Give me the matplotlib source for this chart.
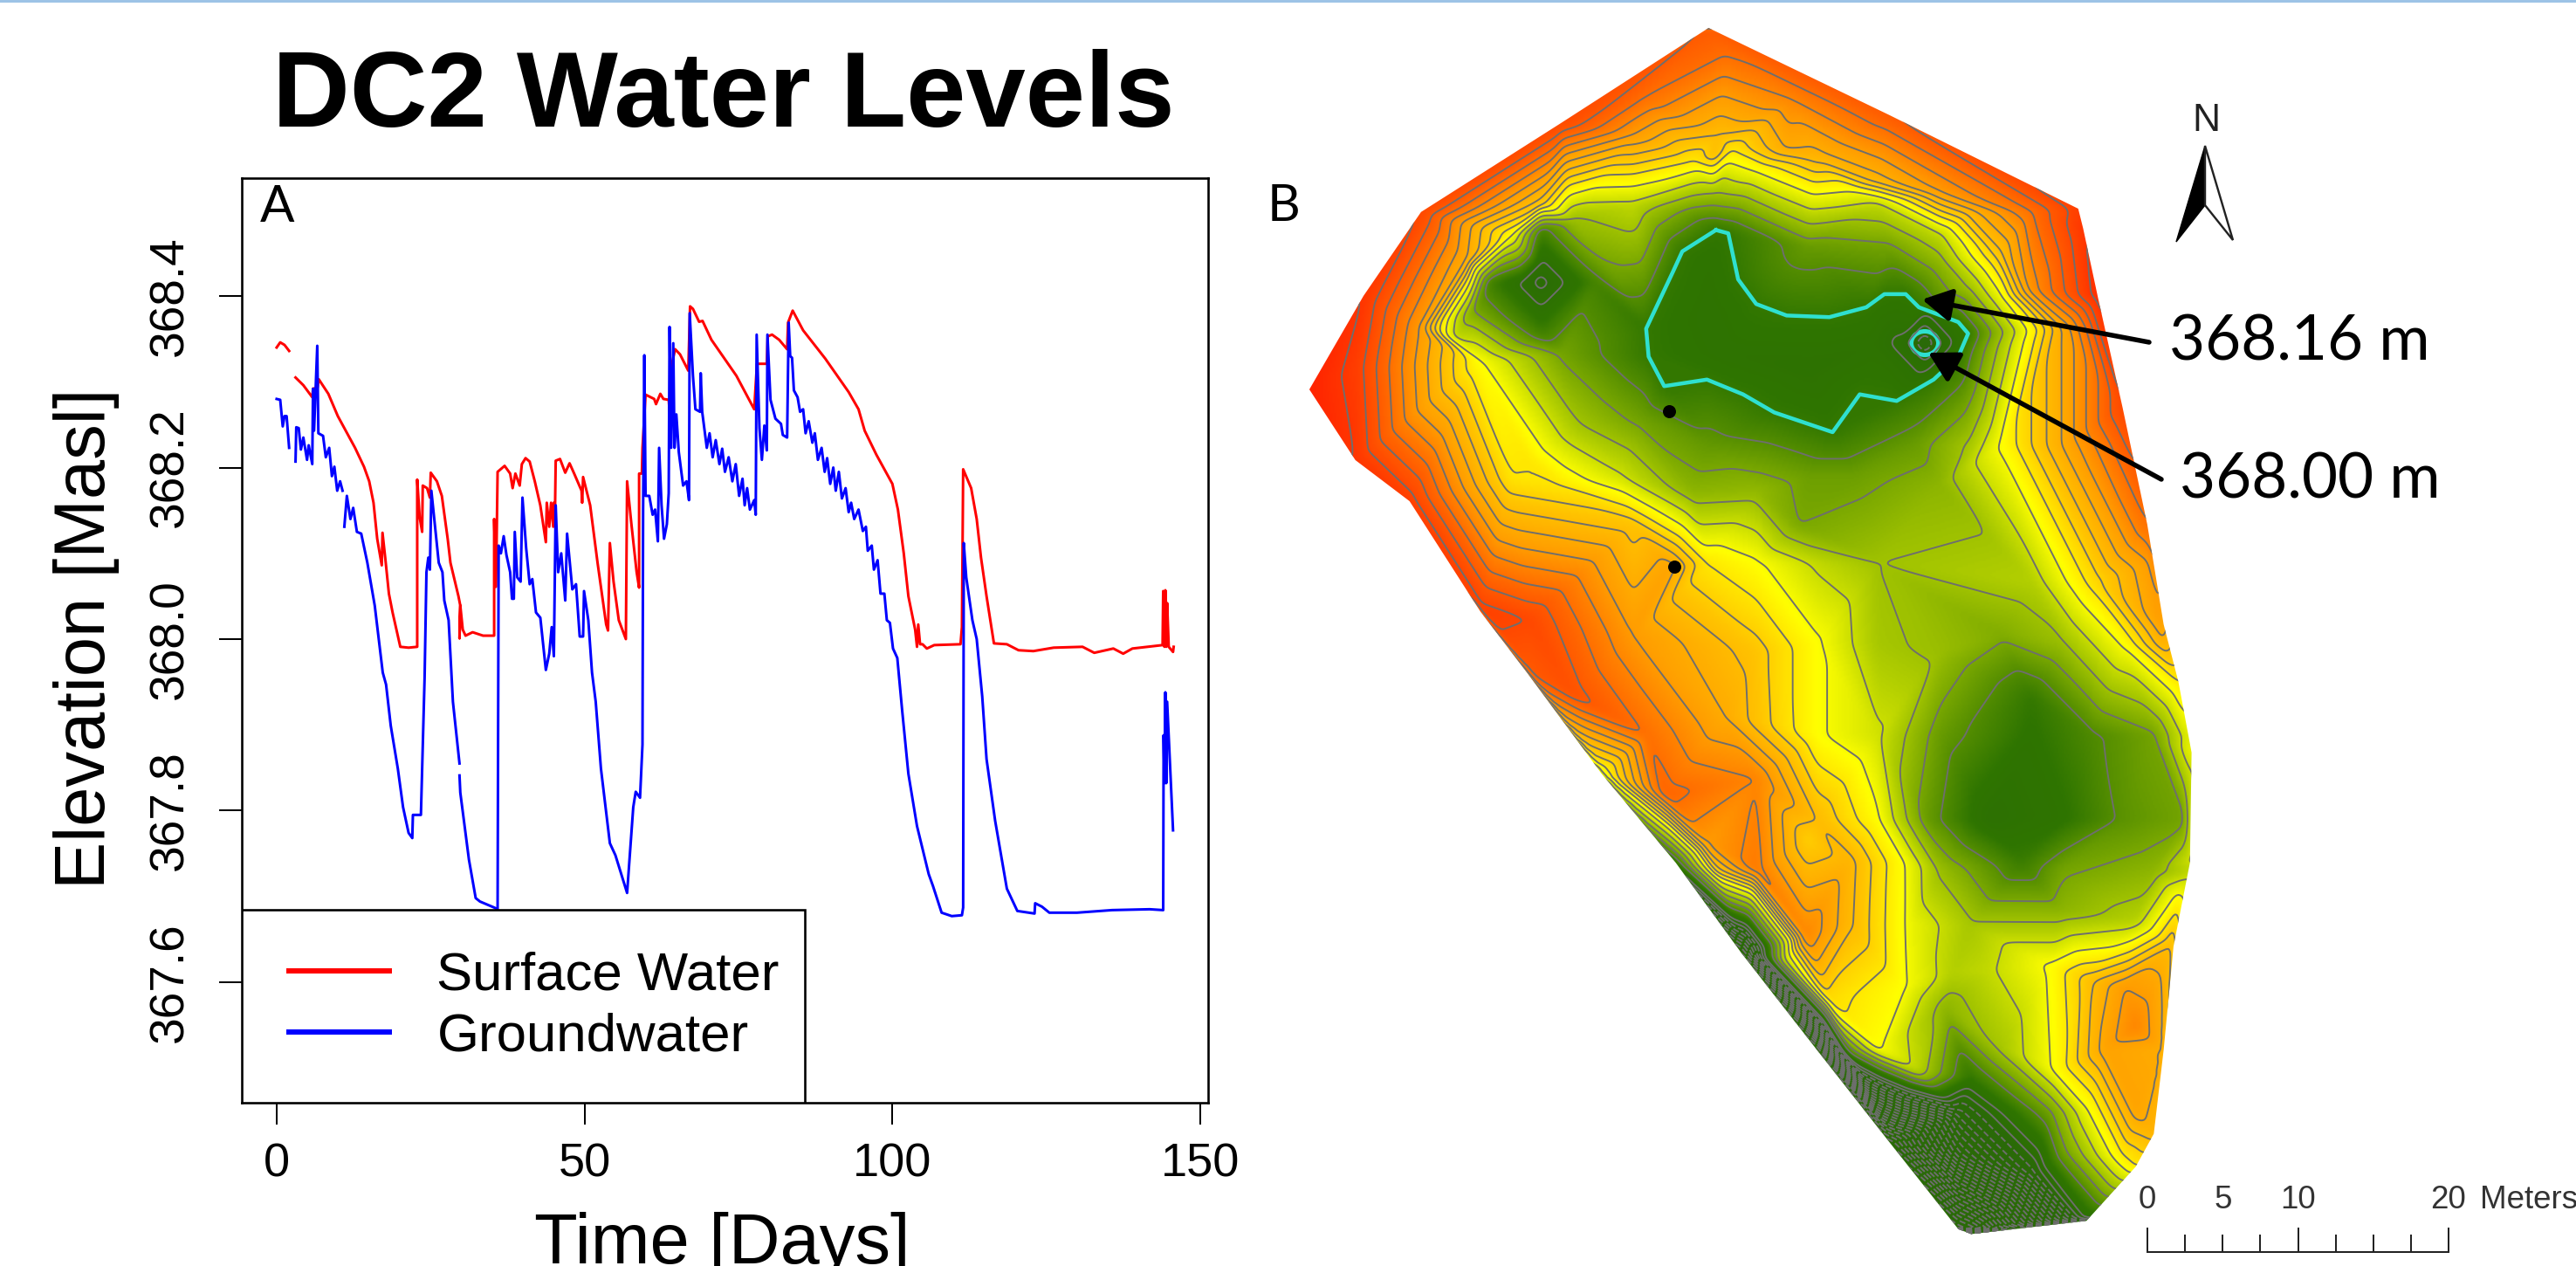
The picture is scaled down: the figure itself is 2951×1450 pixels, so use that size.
import numpy as np
import matplotlib
matplotlib.use("Agg")
import matplotlib.pyplot as plt
import matplotlib.tri as mtri
from matplotlib.colors import LinearSegmentedColormap, Normalize
from matplotlib.patches import Polygon, Rectangle, Ellipse

# ---------- Panel A data (days, metres above sea level) ----------
sw_days_1 = [-0.04, 0.54, 1.24, 1.99]
sw_level_1 = [368.340, 368.346, 368.343, 368.336]
sw_days_2 = [3.03, 4.3, 5.75, 5.87, 6.6, 6.8, 8.36, 9.9, 12.7, 14.15, 15.0, 15.7, 16.3, 17.04, 17.16, 17.6, 18.2, 18.8,
             20.05, 21.4, 22.8, 22.8, 23.2, 23.6, 23.7, 24.4, 24.86, 25.0, 26.0, 26.8, 27.75, 28.2, 29.5, 29.8, 29.67,
             29.8, 30.2, 30.65, 31.8, 33.5, 35.3, 35.3, 35.6, 35.86, 37.0, 37.9, 38.3, 38.75, 39.45, 39.8, 40.4, 41.07,
             41.9, 42.8, 43.7, 43.85, 44.25, 44.55, 44.9, 45.0, 45.2, 45.3, 46.0, 46.85, 47.55, 48.3, 49.5, 49.6, 49.75,
             50.9, 52.1, 53.5, 53.8, 54.1, 54.7, 55.55, 56.7, 56.9, 57.6, 58.45, 58.85, 58.85, 59.3, 59.4, 59.9, 61.3,
             61.6, 62.3, 62.8, 63.66, 63.8, 64.1, 64.7, 65.5, 66.84, 67.13, 67.6, 68.6, 69.16, 70.6, 74.66, 77.55, 78.0,
             78.7, 79.6, 79.75, 80.45, 81.6, 82.9, 83.05, 83.8, 85.5, 89.1, 92.9, 94.5, 95.5, 97.4, 100.0, 100.9, 101.85,
             102.6, 103.7, 104.0, 104.2, 104.5, 104.9, 105.6, 106.8, 111.07, 111.3, 111.5, 112.8, 113.7, 114.4, 115.3,
             116.5, 118.6, 120.5, 122.9, 126.2, 130.9, 132.8, 135.9, 137.5, 139.0, 143.9, 144.0, 144.2, 144.35, 144.5,
             144.64, 144.9, 145.6, 145.7]
sw_level_2 = [368.305, 368.296, 368.282, 368.292, 368.293, 368.303, 368.286, 368.260, 368.223, 368.201, 368.184, 368.159,
              368.117, 368.086, 368.124, 368.095, 368.053, 368.031, 367.991, 367.990, 367.991, 368.186, 368.142, 368.125,
              368.179, 368.176, 368.165, 368.194, 368.184, 368.167, 368.117, 368.089, 368.050, 368.039, 368.001, 368.039,
              368.011, 368.004, 368.008, 368.004, 368.004, 368.140, 368.061, 368.195, 368.202, 368.193, 368.176, 368.193,
              368.179, 368.204, 368.211, 368.207, 368.184, 368.156, 368.113, 368.159, 368.131, 368.159, 368.131, 368.159,
              368.156, 368.208, 368.210, 368.194, 368.205, 368.193, 368.173, 368.159, 368.189, 368.156, 368.089, 368.017,
              368.010, 368.112, 368.067, 368.022, 368.000, 368.184, 368.134, 368.078, 368.060, 368.193, 368.193, 368.223,
              368.285, 368.280, 368.274, 368.286, 368.280, 368.279, 368.265, 368.318, 368.338, 368.332, 368.313, 368.388,
              368.385, 368.370, 368.371, 368.349, 368.307, 368.268, 368.321, 368.321, 368.321, 368.353, 368.355, 368.349,
              368.338, 368.369, 368.383, 368.360, 368.327, 368.288, 368.268, 368.243, 368.215, 368.181, 368.151, 368.100,
              368.050, 368.011, 367.991, 368.017, 367.994, 367.994, 367.989, 367.993, 367.994, 368.014, 368.198, 368.176,
              368.140, 368.095, 368.050, 367.995, 367.994, 367.987, 367.986, 367.990, 367.991, 367.984, 367.989, 367.983,
              367.989, 367.993, 368.056, 367.991, 368.057, 367.991, 368.042, 367.991, 367.985, 367.991]

gw_days_1 = [-0.04, 0.54, 0.95, 1.24, 1.58, 1.99]
gw_level_1 = [368.280, 368.279, 368.248, 368.260, 368.260, 368.223]
gw_days_2 = [3.03, 3.15, 3.55, 3.9, 4.3, 4.9, 5.17, 5.75, 5.87, 6.04, 6.56, 6.74, 7.5, 7.95, 8.5, 8.94, 9.34, 9.8, 10.27, 10.67]
gw_level_2 = [368.207, 368.247, 368.246, 368.221, 368.235, 368.209, 368.226, 368.204, 368.292, 368.243, 368.342, 368.240,
              368.237, 368.212, 368.223, 368.190, 368.201, 368.173, 368.184, 368.173]
gw_days_3 = [10.96, 11.37, 11.95, 12.4, 13.0, 13.7, 14.7, 15.9, 17.2, 17.74, 18.5, 19.65, 20.5, 21.4, 22.0, 22.1, 23.4, 24.0,
             24.3, 24.6, 24.86, 25.1, 25.7, 26.3, 26.9, 27.2, 27.9, 28.6, 29.67]
gw_level_3 = [368.131, 368.167, 368.140, 368.153, 368.125, 368.123, 368.089, 368.039, 367.961, 367.947, 367.899, 367.849,
              367.804, 367.774, 367.768, 367.795, 367.795, 367.955, 368.078, 368.095, 368.081, 368.173, 368.131, 368.089,
              368.078, 368.045, 368.022, 367.927, 367.855]
gw_days_4 = [29.67, 29.8, 31.2, 32.3, 33.0, 35.3, 35.86, 36.03, 36.4, 36.85, 37.3, 37.9, 38.2, 38.5, 38.65, 39.05, 39.6, 39.9,
             40.5, 41.07, 41.5, 42.1, 42.8, 43.7, 44.25, 44.65, 45.0, 45.3, 45.7, 46.2, 46.85, 47.15, 48.0, 48.6, 49.2, 49.75,
             49.9, 50.6, 51.2, 51.8, 52.65, 54.1, 55.0, 56.9, 57.9, 58.3, 59.0, 59.4, 59.5, 59.7, 59.9, 60.5, 61.05, 61.45,
             61.9, 62.1, 62.5, 62.9, 63.36, 63.66, 63.8, 64.06, 64.4, 64.6, 64.9, 65.3, 66.0, 66.55, 66.96, 67.07, 67.6, 68.0,
             68.75, 68.86, 69.1, 69.85, 70.3, 70.8, 71.3, 71.9, 72.35, 72.8, 73.4, 74.0, 74.55, 75.1, 75.65, 76.0, 76.4, 76.85,
             77.55, 77.8, 77.95, 78.4, 78.8, 79.2, 79.6, 79.7, 80.2, 81.0, 81.9, 82.2, 82.9, 83.15, 83.4, 83.7, 84.0, 84.6, 85.0,
             85.5, 85.9, 86.4, 87.0, 87.4, 87.9, 88.5, 89.0, 89.4, 89.9, 90.4, 90.8, 91.3, 91.8, 92.4, 92.9, 93.3, 93.8, 94.5,
             95.2, 95.7, 96.0, 96.65, 97.0, 97.6, 98.07, 98.7, 99.1, 99.6, 100.1, 100.8, 101.6, 102.6, 104.0, 105.9, 106.6,
             108.0, 109.65, 111.3, 111.5, 111.6, 112.0, 113.0, 113.7, 114.6, 115.3, 116.7, 118.6, 120.3, 123.1, 123.2, 124.3,
             125.5, 130.0, 135.7, 141.8, 144.0, 144.07, 144.2, 144.35, 144.5, 144.64, 145.6]
gw_level_4 = [367.841, 367.821, 367.743, 367.698, 367.694, 367.687, 367.685, 368.109, 368.100, 368.120, 368.098, 368.078,
              368.047, 368.047, 368.125, 368.072, 368.067, 368.165, 368.106, 368.064, 368.070, 368.031, 368.025, 367.964,
              367.983, 368.014, 367.980, 368.156, 368.078, 368.100, 368.045, 368.123, 368.058, 368.064, 368.003, 368.003,
              368.056, 368.022, 367.961, 367.927, 367.849, 367.762, 367.748, 367.704, 367.804, 367.822, 367.815, 367.877,
              368.151, 368.331, 368.167, 368.167, 368.145, 368.151, 368.114, 368.223, 368.156, 368.117, 368.134, 368.170,
              368.364, 368.223, 368.345, 368.223, 368.262, 368.218, 368.179, 368.184, 368.162, 368.380, 368.307, 368.268,
              368.265, 368.310, 368.265, 368.223, 368.240, 368.212, 368.232, 368.204, 368.222, 368.195, 368.212, 368.184,
              368.204, 368.167, 368.187, 368.156, 368.176, 368.151, 368.162, 368.145, 368.355, 368.246, 368.209, 368.249,
              368.220, 368.355, 368.279, 368.257, 368.251, 368.238, 368.235, 368.369, 368.330, 368.328, 368.290, 368.282,
              368.265, 368.268, 368.240, 368.254, 368.229, 368.240, 368.209, 368.223, 368.195, 368.211, 368.181, 368.200,
              368.173, 368.195, 368.164, 368.176, 368.148, 368.159, 368.140, 368.151, 368.126, 368.131, 368.103, 368.109,
              368.081, 368.092, 368.053, 368.053, 368.022, 368.019, 367.989, 367.978, 367.916, 367.843, 367.782, 367.726,
              367.712, 367.681, 367.677, 367.678, 367.687, 368.112, 368.072, 368.022, 368.000, 367.933, 367.860, 367.788,
              367.709, 367.683, 367.680, 367.692, 367.688, 367.681, 367.681, 367.684, 367.685, 367.684, 367.888, 367.832,
              367.938, 367.832, 367.927, 367.777]

x_ticks = [0, 50, 100, 150]
y_ticks = [367.6, 367.8, 368.0, 368.2, 368.4]
series_names = ["Surface Water", "Groundwater"]

# ---------- Panel B data (map sheet units, relative surface height) ----------
outline_x = [1040, 1150, 1265, 1268, 1277, 1292, 1307, 1317, 1326, 1334, 1333, 1323, 1317, 1311, 1300, 1270, 1200, 1192, 1150,
             1106, 1060, 1020, 975, 930, 901, 858, 825, 797, 830, 865, 950]
outline_y = [17, 70, 127, 139, 181, 248, 319, 380, 415, 458, 525, 576, 639, 690, 710, 743, 751, 748, 695,
             639, 580, 525, 471, 410, 372, 305, 280, 237, 180, 129, 75]
outline_z = [3.6, 3.6, 3.9, 4.0, 4.1, 3.8, 3.4, 3.0, 2.2, 1.9, 1.7, 2.6, 2.8, 2.7, 2.2, 0.2, -5.0, -5.0, -4.0,
             -3.0, -1.5, 0.5, 2.0, 3.6, 3.9, 3.9, 4.0, 4.2, 4.0, 3.8, 3.8]

cyan_x = [1044.5, 1052, 1058, 1069, 1087.5, 1113.5, 1136, 1147, 1160, 1168, 1192, 1198, 1192, 1177, 1154.5, 1132, 1115.5, 1080,
          1061, 1039, 1013, 1003.5, 1002, 1018.5, 1024, 1044.5]
cyan_y = [140, 142, 170, 185, 192, 193, 187, 179, 179, 187, 196, 203, 217, 231, 244, 240, 263, 251,
          240, 231, 235, 217, 200, 165, 153, 140]

sample_x = [1050, 1000, 1090, 994, 1031, 1043, 1069, 1106, 1143, 1046, 1054, 1087, 1125, 1181, 1043, 994, 957, 938, 920, 893,
            1181, 1143, 1199, 1237, 1237, 1218, 1218, 1255, 1270,
            938, 948, 928, 938, 938, 960, 916, 938, 938, 970, 906, 938, 938, 985, 895, 885, 864, 826,
            1040, 1100, 1140, 1050, 1040, 1171.6, 1187, 1156, 1171.6, 1171.6,
            1000, 1030, 1100, 1150, 1180, 1200, 1040, 1100, 1130, 1165, 1030, 1000, 950, 900, 960, 930, 985,
            920, 949, 994, 1017, 1039, 1069, 1106, 1143, 1095, 1069, 1181, 1199, 1218, 1255, 1285, 1237, 1274, 1309,
            931, 994, 1069, 1106, 1143, 1181, 1218, 1255, 1293, 1315,
            957, 1002, 1050, 1106, 1143, 1181, 1236, 1274, 1311, 1332,
            1013, 1069, 1106, 1143, 1173, 1210, 1255, 1292, 1330,
            1039, 1069, 1100, 1125, 1158, 1181, 1255, 1311, 1332,
            1099, 1128, 1162, 1199, 1255, 1300, 1328,
            1113, 1158, 1188, 1210, 1248, 1270, 1293, 1322,
            1143, 1166, 1184, 1199, 1218, 1251, 1281, 1300, 1317,
            1192, 1248, 1270, 1300, 1292, 1192, 1237, 1255,
            1125, 1085, 1045, 1236, 1230]
sample_y = [34, 60, 60, 82, 98, 94, 103, 96, 110, 82, 91, 91, 115, 117, 121, 124, 134, 124, 143, 158,
            143, 124, 129, 129, 177, 181, 153, 200, 200,
            172, 172, 172, 162, 182, 172, 172, 150, 194, 172, 172, 140, 204, 172, 190, 205, 200, 224,
            190, 225, 210, 215, 160, 208.8, 208.8, 208.8, 192, 225,
            170, 130, 150, 150, 160, 175, 270, 290, 290, 270, 300, 255, 215, 220, 260, 280, 290,
            290, 295, 319, 345, 343, 343, 343, 343, 319, 300, 295, 271, 271, 271, 271, 354, 354, 343,
            377, 387, 397, 392, 392, 397, 387, 392, 392, 392,
            423, 448, 436, 448, 448, 448, 448, 448, 448, 448,
            484, 474, 499, 499, 499, 499, 499, 499, 499,
            514, 530, 512, 525, 525, 530, 530, 530, 530,
            570, 563, 563, 563, 555, 560, 550,
            609, 601, 593, 591, 588, 596, 601, 575,
            639, 652, 614, 657, 639, 652, 639, 626, 639,
            677, 677, 677, 677, 703, 703, 715, 703,
            640, 585, 530, 425, 525]
sample_z = [3.4, 3.4, 3.2, 3.0, 2.2, 2.6, 2.0, 2.7, 2.7, 2.6, 2.2, 2.8, 2.0, 3.0, 1.2, 1.6, 1.3, 2.5, 2.0, 2.8,
            1.6, 1.6, 2.7, 3.4, 3.1, 1.9, 2.6, 2.8, 3.4,
            -0.1, 0.1, 0.1, 0.1, 0.1, 0.35, 0.35, 0.35, 0.35, 0.6, 0.6, 0.6, 0.6, 0.9, 1.1, 1.6, 3.0, 3.9,
            0.3, 0.25, 0.3, 0.3, 0.35, -0.4, 0.15, 0.15, 0.15, 0.15,
            0.9, 0.9, 0.9, 1.0, 1.2, 1.4, 0.85, 0.95, 0.95, 0.9, 1.2, 0.95, 1.0, 2.0, 1.4, 2.2, 1.7,
            2.2, 2.2, 2.5, 2.9, 2.2, 2.0, 1.6, 1.35, 1.05, 1.25, 1.2, 1.4, 2.0, 2.8, 3.4, 1.5, 2.3, 3.0,
            3.8, 3.0, 2.5, 2.0, 1.4, 1.3, 1.1, 1.3, 2.0, 2.7,
            3.7, 3.4, 2.8, 2.0, 1.7, 0.9, 0.35, 0.7, 1.0, 1.8,
            3.5, 3.2, 2.6, 2.0, 0.9, 0.2, 0.35, 0.8, 1.0,
            3.0, 3.3, 2.4, 2.7, 2.0, 1.3, 1.0, 1.2, 1.5,
            3.2, 2.6, 1.9, 1.4, 1.2, 1.5, 2.2,
            2.3, 2.0, 1.5, 1.6, 2.0, 2.5, 3.0, 2.6,
            2.0, 1.6, 1.2, 0.4, 1.4, 2.0, 2.9, 3.2, 2.8,
            -0.5, 1.0, 1.9, 2.9, 2.2, -1.5, -0.3, 0.9,
            0.8, 1.5, 2.5, 0.45, 0.5]

well_x = [1016, 1019]
well_y = [250, 345]
map_stop_z = [-0.2, 0.4, 0.7, 1.0, 1.5, 2.0, 2.5, 3.0, 3.5, 4.2]
map_stop_colors = ["#2a6a08", "#2f7500", "#4f8a00", "#74a400", "#b4d000", "#ffff00", "#ffc400", "#ff9c00", "#ff6400", "#ff2400"]
scale_ticks_m = [0, 2.5, 5, 7.5, 10, 12.5, 15, 17.5, 20]
scale_labels_m = [0, 5, 10, 20]

W, H = 2951, 1450
fig = plt.figure(figsize=(W / 100, H / 100), dpi=100, facecolor="white")
SANS = ["Liberation Sans", "DejaVu Sans"]
CAL = ["Lato", "DejaVu Sans"]
PT = 0.72  # points per output pixel

# ---------- page overlay in pixel units ----------
page = fig.add_axes([0, 0, 1, 1], zorder=1)
page.set_axis_off()
k = W / 1568

page.add_patch(Rectangle((0, 0), W, 3, fc="#9dc3e6", ec="none"))
page.text(829, 113, "DC2 Water Levels", fontsize=88.5, fontweight="bold", family=SANS, ha="center", va="center")
page.text(1452, 236, "B", fontsize=42, family=CAL, ha="left", va="center")

# surface from the read samples
sx = np.array(outline_x + sample_x + cyan_x[:-1], float)
sy = np.array(outline_y + sample_y + cyan_y[:-1], float)
sz = np.array(outline_z + sample_z + [0.45] * (len(cyan_x) - 1), float)
tri = mtri.Triangulation(sx, sy)
gx = np.arange(790, 1340, 1.0)
gy = np.arange(10, 760, 1.0)
GX, GY = np.meshgrid(gx, gy)
Zm = mtri.LinearTriInterpolator(tri, sz)(GX, GY)
Z = np.ma.filled(Zm, np.nan)
for row in Z:
    ok = np.where(~np.isnan(row))[0]
    if len(ok):
        row[:ok[0]] = row[ok[0]]
        row[ok[-1] + 1:] = row[ok[-1]]
    else:
        row[:] = 3.0
for _ in range(2):
    P = np.pad(Z, 2, mode="edge")
    Z = sum(P[2 + a:P.shape[0] - 2 + a, 2 + b:P.shape[1] - 2 + b] for a in range(-2, 3) for b in range(-2, 3)) / 25

lo, hi = map_stop_z[0], map_stop_z[-1]
cmap = LinearSegmentedColormap.from_list("wet", [((z - lo) / (hi - lo), c) for z, c in zip(map_stop_z, map_stop_colors)])
clip = Polygon(np.c_[np.array(outline_x) * k, np.array(outline_y) * k], closed=True, transform=page.transData, fc="none", ec="none")
page.add_patch(clip)
im = page.imshow(Z, origin="lower", extent=(gx[0] * k, gx[-1] * k, gy[0] * k, gy[-1] * k), cmap=cmap,
                 norm=Normalize(lo, hi), aspect="auto", interpolation="bilinear")
im.set_clip_path(clip)
contour_levels = np.r_[np.arange(-6.0, 0.21, 0.2), 0.75, 1.05, 1.35, 1.65, 1.95, np.arange(2.2, 4.41, 0.2)]
cs = page.contour(GX * k, GY * k, Z, levels=contour_levels, colors="#6e6e6e", linewidths=1.9 * PT)
cs.set_clip_path(clip)
page.plot(np.array(cyan_x) * k, np.array(cyan_y) * k, color="#2fe0d0", lw=4.5 * PT, solid_joinstyle="round")
page.add_patch(Ellipse((2205, 393), 31, 27, fc="none", ec="#2fe0d0", lw=5 * PT))
page.plot(np.array(well_x) * k, np.array(well_y) * k, "o", color="black", ms=15 * PT, mec="none")

# callouts
for text, tx, ty, tail, head in [("368.16 m", 2634, 392, (2462, 392), (2202, 343)),
                                 ("368.00 m", 2646, 550, (2476, 549), (2209, 404))]:
    page.text(tx, ty, text, fontsize=51, family=CAL, ha="center", va="center")
    page.annotate("", xy=head, xytext=tail,
                  arrowprops=dict(arrowstyle="-|>,head_length=0.75,head_width=0.42", color="black", lw=5.5 * PT,
                                  mutation_scale=27, shrinkA=0, shrinkB=0))

# north arrow
page.text(2527, 138, "N", fontsize=32, family=SANS, ha="center", va="center", color="#222222")
page.add_patch(Polygon([(2526, 167), (2493, 277), (2526, 235)], closed=True, fc="black", ec="black", lw=1))
page.add_patch(Polygon([(2526, 167), (2558, 275), (2526, 235)], closed=True, fc="white", ec="#222222", lw=2.4 * PT))

# scale bar
x0, per_m, y0 = 2460, (2805 - 2460) / 20, 1434
page.plot([x0, x0 + 20 * per_m], [y0, y0], color="#222222", lw=2 * PT)
for m in scale_ticks_m:
    top = y0 - (27 if m in (0, 10, 20) else 19)
    page.plot([x0 + m * per_m] * 2, [y0, top], color="#222222", lw=2 * PT)
for m in scale_labels_m:
    page.text(x0 + m * per_m, 1374, str(m), fontsize=26.5, family=SANS, ha="center", va="center", color="#333333")
page.text(2841, 1374, "Meters", fontsize=26.5, family=SANS, ha="left", va="center", color="#333333", clip_on=True)
page.set_xlim(0, W)
page.set_ylim(H, 0)

# ---------- Panel A ----------
L, R, T, B = 277, 1384, 204, 1263
ax = fig.add_axes([L / W, 1 - B / H, (R - L) / W, (B - T) / H], zorder=2)
red, blue = "#ff0000", "#0000ff"
ax.plot(sw_days_2, sw_level_2, color=red, lw=3 * PT, label=series_names[0], zorder=2)
ax.plot(sw_days_1, sw_level_1, color=red, lw=3 * PT, zorder=2)
ax.plot(gw_days_4, gw_level_4, color=blue, lw=3 * PT, label=series_names[1], zorder=3)
for d, v in [(gw_days_1, gw_level_1), (gw_days_2, gw_level_2), (gw_days_3, gw_level_3)]:
    ax.plot(d, v, color=blue, lw=3 * PT, zorder=3)
ax.set_xlim(-5.7, 151.3)
ax.set_ylim(367.4594, 368.5375)
ax.set_xticks(x_ticks)
ax.set_yticks(y_ticks)
ax.set_yticklabels([f"{v:.1f}" for v in y_ticks], rotation=90, va="center", family=SANS, fontsize=39.7)
ax.set_xticklabels([str(v) for v in x_ticks], family=SANS, fontsize=39)
ax.tick_params(axis="x", length=25 * PT, width=2 * PT, pad=21 * PT)
ax.tick_params(axis="y", length=26 * PT, width=2 * PT, pad=30 * PT)
for s in ax.spines.values():
    s.set_linewidth(2.6 * PT)
ax.set_xlabel("Time [Days]", family=SANS, fontsize=58.5)
ax.set_ylabel("Elevation [Masl]", family=SANS, fontsize=58.5)
ax.xaxis.set_label_coords((827 - L) / (R - L), (B - 1388) / (B - T))
ax.yaxis.set_label_coords((137 - L) / (R - L), (B - 731) / (B - T))
ax.text((298 - L) / (R - L), (B - 237) / (B - T), "A", transform=ax.transAxes, fontsize=42, family=CAL, ha="left", va="center")

ax.add_patch(Rectangle((0, 0), (922 - L) / (R - L), (B - 1042) / (B - T), transform=ax.transAxes, fc="white", ec="black",
                       lw=2.6 * PT, zorder=5))
leg = ax.legend(loc="center left", bbox_to_anchor=((331 - L) / (R - L), (B - 1153) / (B - T)), borderpad=0, borderaxespad=0,
                frameon=False, handlelength=115 / 62, handletextpad=55 / 62, labelspacing=0.21,
                prop={"family": SANS, "size": 44.5})
leg.set_zorder(6)
for h in leg.get_lines():
    h.set_linewidth(6 * PT)

fig.savefig("out.png", dpi=100, facecolor="white")
